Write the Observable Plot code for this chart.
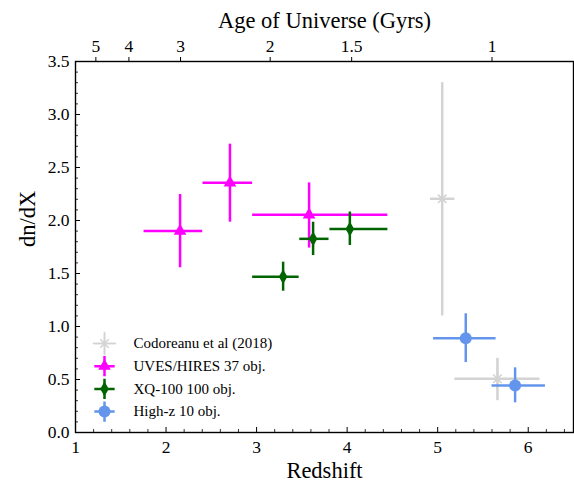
<!DOCTYPE html>
<html>
<head>
<meta charset="utf-8">
<script src="https://cdn.jsdelivr.net/npm/d3@7"></script>
<script src="https://cdn.jsdelivr.net/npm/@observablehq/plot@0.6"></script>
<style>
  body { margin: 0; background: #fff; }
</style>
</head>
<body>
<div id="chart"></div>
<script>
// Surveys and their colours
const seriesNames = ["Codoreanu et al (2018)", "UVES/HIRES 37 obj.", "XQ-100 100 obj.", "High-z 10 obj."];
const seriesColors = ["#d3d3d3", "#ff00ff", "#006400", "#6495ed"];

// Measurements: redshift bin (centre, low, high) and dn/dX (value, low, high)
const pointSeries = [0, 0, 1, 1, 1, 2, 2, 2, 3, 3];
const z      = [5.05, 5.66, 2.155, 2.706, 3.58, 3.293, 3.624, 4.03, 5.31, 5.855];
const zLo    = [4.92, 5.19, 1.757, 2.408, 2.956, 2.956, 3.477, 3.81, 4.955, 5.60];
const zHi    = [5.19, 6.13, 2.405, 2.956, 4.45, 3.47, 3.80, 4.45, 5.645, 6.19];
const dndx   = [2.205, 0.507, 1.90, 2.355, 2.054, 1.47, 1.827, 1.92, 0.89, 0.443];
const dndxLo = [1.10, 0.30, 1.554, 1.984, 1.74, 1.333, 1.67, 1.764, 0.66, 0.28];
const dndxHi = [3.30, 0.70, 2.245, 2.72, 2.355, 1.607, 1.984, 2.08, 1.12, 0.61];

// Top axis: age of the Universe (Gyr) at the corresponding redshift
const ageLabels = ["5", "4", "3", "2", "1.5", "1"];
const ageZ = [1.225, 1.59, 2.16, 3.15, 4.05, 5.60];

// Bottom / left tick values
const xMajor = [1, 2, 3, 4, 5, 6];
const yMajor = [0, 0.5, 1, 1.5, 2, 2.5, 3, 3.5];

const points = z.map((v, i) => ({
  s: pointSeries[i], z: v, zLo: zLo[i], zHi: zHi[i],
  v: dndx[i], vLo: dndxLo[i], vHi: dndxHi[i]
}));

const W = 574, H = 483;
const mL = 75, mR = 1, mT = 61, mB = 51;
const innerW = W - mL - mR, innerH = H - mT - mB;

const xMinor = d3.range(1, 6.5001, 0.2).map(d => +d.toFixed(2)).filter(d => !xMajor.some(m => Math.abs(m - d) < 1e-6));
const yMinor = d3.range(0, 3.5001, 0.1).map(d => +d.toFixed(2)).filter(d => !yMajor.some(m => Math.abs(m - d) < 1e-6));

const errWidth = 2.5;
const serif = "Liberation Serif";

// marker marks for a series, used both in the plot and in the legend
function markerMarks(s, data, opts) {
  const c = seriesColors[s];
  if (s === 0) return [
    Plot.dot(data, {...opts, symbol: "plus", r: 7.6, stroke: c, strokeWidth: 1.6, fill: "none"}),
    Plot.dot(data, {...opts, symbol: "times", r: 3.9, stroke: c, strokeWidth: 1.6, fill: "none"})
  ];
  if (s === 1) return [Plot.dot(data, {...opts, symbol: "triangle", r: 4.7, fill: c, stroke: "none"})];
  if (s === 2) return [Plot.dot(data, {...opts, symbol: "diamond", r: 4.5, fill: c, stroke: "none"})];
  return [Plot.dot(data, {...opts, symbol: "circle", r: 6, fill: c, stroke: "none"})];
}

const marks = [];

// error bars and markers, series by series
seriesNames.forEach((name, s) => {
  const d = points.filter(p => p.s === s);
  marks.push(Plot.ruleY(d, {y: "v", x1: "zLo", x2: "zHi", stroke: seriesColors[s], strokeWidth: errWidth}));
  marks.push(Plot.ruleX(d, {x: "z", y1: "vLo", y2: "vHi", stroke: seriesColors[s], strokeWidth: errWidth}));
  marks.push(...markerMarks(s, d, {x: "z", y: "v"}));
});

// legend, lower left inside the frame
seriesNames.forEach((name, s) => {
  const dy = -89 + s * 22.7;
  const anchor = {frameAnchor: "bottom-left", dx: 29, dy};
  marks.push(Plot.dot([name], {...anchor, symbol: "plus", r: 6.6, stroke: seriesColors[s], strokeWidth: s === 0 ? 1.6 : 2.5, fill: "none"}));
  marks.push(...markerMarks(s, [name], anchor));
  marks.push(Plot.text([name], {frameAnchor: "bottom-left", dx: 58, dy, text: d => d, textAnchor: "start", lineAnchor: "middle", fontSize: 15, fontFamily: serif, fill: "#000"}));
});

// inward ticks on bottom and left
marks.push(Plot.tickX(xMajor, {x: d => d, insetTop: innerH - 5, stroke: "#000", strokeWidth: 1}));
marks.push(Plot.tickX(xMinor, {x: d => d, insetTop: innerH - 3, stroke: "#000", strokeWidth: 0.8}));
marks.push(Plot.tickY(yMajor, {y: d => d, insetRight: innerW - 5, stroke: "#000", strokeWidth: 1}));
marks.push(Plot.tickY(yMinor, {y: d => d, insetRight: innerW - 3, stroke: "#000", strokeWidth: 0.8}));

// axes
marks.push(Plot.axisX({anchor: "bottom", ticks: xMajor, tickSize: 0, tickPadding: 8, tickFormat: d3.format("d"), label: null, fontSize: 17.5, fontFamily: serif}));
marks.push(Plot.axisY({anchor: "left", ticks: yMajor, tickSize: 0, tickPadding: 6, tickFormat: d3.format(".1f"), label: null, fontSize: 17.5, fontFamily: serif}));
marks.push(Plot.axisX({anchor: "top", ticks: ageZ, tickSize: 5, tickPadding: 5, tickFormat: d => ageLabels[ageZ.indexOf(d)], label: null, fontSize: 17.5, fontFamily: serif}));

// axis titles
marks.push(Plot.text(["Redshift"], {frameAnchor: "bottom", dy: 38, text: d => d, lineAnchor: "middle", fontSize: 22.5, fontFamily: serif, fill: "#000"}));
marks.push(Plot.text(["Age of Universe (Gyrs)"], {frameAnchor: "top", dy: -41, text: d => d, lineAnchor: "middle", fontSize: 22.5, fontFamily: serif, fill: "#000"}));
marks.push(Plot.text(["dn/dX"], {frameAnchor: "left", dx: -48, text: d => d, rotate: -90, lineAnchor: "middle", fontSize: 22.5, fontFamily: serif, fill: "#000"}));

marks.push(Plot.frame({stroke: "#000", strokeWidth: 1.4}));

const chart = Plot.plot({
  width: W, height: H,
  marginLeft: mL, marginRight: mR, marginTop: mT, marginBottom: mB,
  x: {domain: [1, 6.5]},
  y: {domain: [0, 3.5]},
  style: {fontFamily: serif, fontSize: "17px", color: "#000", background: "#fff"},
  marks
});
document.getElementById("chart").append(chart);
</script>
</body>
</html>
